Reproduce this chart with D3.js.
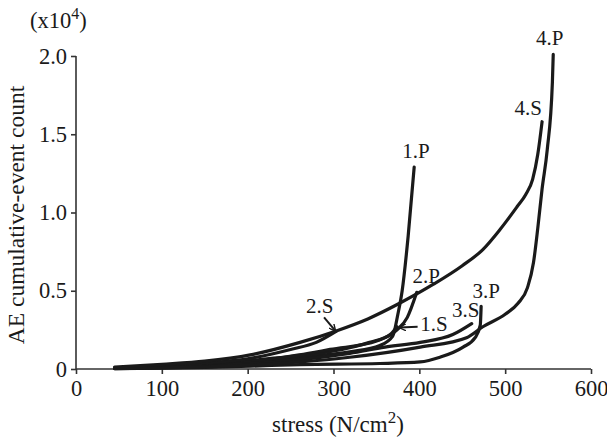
<!DOCTYPE html>
<html><head><meta charset="utf-8">
<script src="https://cdn.jsdelivr.net/npm/d3@7"></script>
<style>html,body{margin:0;padding:0;background:#fff}svg{display:block}text{font-family:"Liberation Serif","Times New Roman",serif;fill:#1a1a1a}</style>
</head><body><svg id="c" width="607" height="438"></svg>
<script>
const xTicks = [0, 100, 200, 300, 400, 500, 600];
const yTicks = [0, 0.5, 1.0, 1.5, 2.0];
const yTickLabels = ["0", "0.5", "1.0", "1.5", "2.0"];
const seriesNames = ["1.P", "1.S", "2.P", "2.S", "3.P", "3.S", "4.P", "4.S"];
const s1P = [[45,0.006],[100,0.015],[150,0.025],[203,0.045],[260,0.075],[319,0.11],[354,0.15],[369,0.21],[375,0.35],[380,0.5],[387,0.85],[394,1.29]];
const s1S = [[45,0.006],[100,0.018],[150,0.03],[203,0.055],[260,0.085],[300,0.115],[342,0.17],[366,0.22],[374,0.27]];
const s2P = [[45,0.005],[100,0.012],[150,0.022],[203,0.045],[260,0.09],[296,0.125],[351,0.18],[374,0.25],[386,0.33],[397,0.49]];
const s2S = [[45,0.008],[100,0.022],[150,0.038],[200,0.065],[250,0.125],[280,0.17],[303,0.24]];
const s3P = [[45,0.003],[100,0.006],[150,0.01],[203,0.018],[261,0.028],[354,0.035],[401,0.045],[424,0.075],[451,0.14],[465,0.2],[471,0.28],[472,0.40]];
const s3S = [[45,0.004],[100,0.01],[150,0.018],[203,0.035],[260,0.06],[319,0.1],[360,0.14],[401,0.17],[439,0.22],[461,0.29]];
const s4P = [[45,0.003],[100,0.007],[150,0.014],[203,0.025],[261,0.045],[319,0.075],[401,0.14],[455,0.2],[474,0.27],[500,0.35],[515,0.42],[526,0.52],[533,0.68],[538,0.9],[543,1.15],[549,1.40],[555,1.83],[556,2.01]];
const s4S = [[45,0.012],[100,0.03],[150,0.05],[203,0.09],[261,0.17],[304,0.245],[340,0.32],[377,0.42],[416,0.54],[450,0.66],[474,0.763],[494,0.891],[514,1.038],[524,1.115],[532,1.212],[538,1.372],[543,1.58]];
const seriesValues = [s1P, s1S, s2P, s2S, s3P, s3S, s4P, s4S];
// curve label annotations
const labelTexts = ["1.P", "2.P", "2.S", "1.S", "3.S", "3.P", "4.S", "4.P"];
const labelX = [396, 408, 284, 401, 454, 478, 527, 552];
const labelY = [1.35, 0.55, 0.36, 0.24, 0.33, 0.455, 1.62, 2.07];
const labelAnchor = ["middle","middle","middle","start","middle","middle","middle","middle"];
// arrows: [x1,y1,x2,y2]
const arrows = [[289,0.33,302,0.245],[398,0.27,377,0.265]];

const svg = d3.select("#c");
const x = d3.scaleLinear().domain([0, 600]).range([76, 591]);
const y = d3.scaleLinear().domain([0, 2.0]).range([369, 56]);
const ink = "#1a1a1a";

svg.append("defs").append("marker").attr("id","ah").attr("viewBox","0 0 10 10")
  .attr("refX",9).attr("refY",5).attr("markerWidth",7).attr("markerHeight",7)
  .attr("orient","auto").attr("markerUnits","userSpaceOnUse")
  .append("path").attr("d","M0,0 L10,5 L0,10").attr("fill","none").attr("stroke",ink).attr("stroke-width",2);

// axes
const xAxis = svg.append("g").attr("transform","translate(0,369)")
  .call(d3.axisBottom(x).tickValues(xTicks).tickSize(5).tickPadding(6).tickFormat(d3.format("d")));
const yAxis = svg.append("g").attr("transform","translate(76,0)")
  .call(d3.axisLeft(y).tickValues(yTicks).tickSize(5).tickPadding(4).tickFormat((d,i)=>yTickLabels[i]));
[xAxis, yAxis].forEach(g => {
  g.select(".domain").attr("stroke","#333").attr("stroke-width",1.6);
  g.selectAll(".tick line").attr("stroke","#333").attr("stroke-width",1.6);
  g.selectAll(".tick text").attr("font-family","Liberation Serif").attr("font-size",22.5).attr("fill",ink);
});
xAxis.select(".domain").attr("d","M76,0H591");
yAxis.select(".domain").attr("d","M0,369V56");

// lines
const line = d3.line().x(d=>x(d[0])).y(d=>y(d[1])).curve(d3.curveMonotoneX);
svg.append("g").selectAll("path").data(seriesValues).join("path")
  .attr("d", line).attr("fill","none").attr("stroke",ink).attr("stroke-width",3.2)
  .attr("stroke-linejoin","round").attr("stroke-linecap","round");

// labels
svg.append("g").selectAll("text").data(labelTexts).join("text")
  .attr("x",(d,i)=>x(labelX[i])).attr("y",(d,i)=>y(labelY[i]))
  .attr("text-anchor",(d,i)=>labelAnchor[i]).attr("font-size",21).text(d=>d);

svg.append("g").selectAll("line").data(arrows).join("line")
  .attr("x1",d=>x(d[0])).attr("y1",d=>y(d[1])).attr("x2",d=>x(d[2])).attr("y2",d=>y(d[3]))
  .attr("stroke",ink).attr("stroke-width",2).attr("marker-end","url(#ah)");

// axis titles
const xt = svg.append("text").attr("x",338).attr("y",432).attr("text-anchor","middle").attr("font-size",23);
xt.append("tspan").text("stress (N/cm");
xt.append("tspan").attr("dy",-9).attr("font-size",17).text("2");
xt.append("tspan").attr("dy",9).text(")");

svg.append("text").attr("transform","translate(24,215) rotate(-90)").attr("text-anchor","middle")
  .attr("font-size",23.5).text("AE cumulative-event count");

const ut = svg.append("text").attr("x",30).attr("y",28).attr("font-size",22.5);
ut.append("tspan").text("(x10");
ut.append("tspan").attr("dy",-9).attr("font-size",16).text("4");
ut.append("tspan").attr("dy",9).text(")");
</script></body></html>
